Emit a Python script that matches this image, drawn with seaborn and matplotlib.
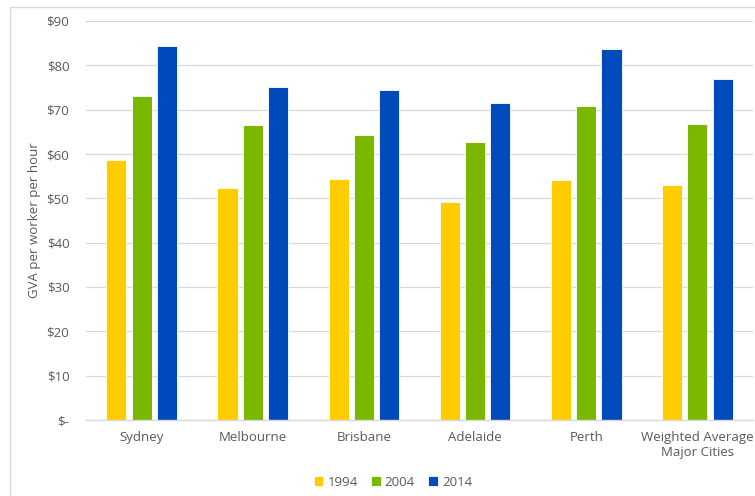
import pandas as pd
import matplotlib.pyplot as plt
import seaborn as sns
from matplotlib.patches import Rectangle

# data
cities = ["Sydney", "Melbourne", "Brisbane", "Adelaide", "Perth",
          "Weighted Average\nMajor Cities"]
years = ["1994", "2004", "2014"]
gva_1994 = [58.7, 52.4, 54.4, 49.1, 54.1, 53.0]
gva_2004 = [73.1, 66.6, 64.2, 62.8, 70.9, 66.7]
gva_2014 = [84.4, 75.2, 74.4, 71.4, 83.7, 77.0]
y_ticks = [0, 10, 20, 30, 40, 50, 60, 70, 80, 90]
y_tick_labels = ["$-", "$10", "$20", "$30", "$40", "$50", "$60", "$70", "$80", "$90"]

COLORS = ["#FFCC00", "#7AB800", "#004BBB"]
TEXT = "#595959"

df = pd.DataFrame({
    "city": cities * 3,
    "year": [y for y in years for _ in cities],
    "gva": gva_1994 + gva_2004 + gva_2014,
})

sns.set_style("white")
plt.rcParams["font.family"] = ["Open Sans", "DejaVu Sans"]

fig = plt.figure(figsize=(7.55, 4.96), dpi=100)
ax = fig.add_axes([86 / 755, 1 - 420 / 496, (753 - 86) / 755, (420 - 21) / 496])

sns.barplot(data=df, x="city", y="gva", hue="year", palette=COLORS, saturation=1,
            width=0.68, gap=0.2, edgecolor="white", linewidth=0.6, ax=ax)

ax.set_ylim(0, 90)
ax.set_xlim(-0.5, len(cities) - 0.5)
ax.set_yticks(y_ticks)
ax.set_yticklabels(y_tick_labels)
ax.yaxis.grid(True, color="#D9D9D9", linewidth=0.9)
ax.set_axisbelow(True)
for s in ["left", "top", "right"]:
    ax.spines[s].set_visible(False)
ax.spines["bottom"].set_color("#D9D9D9")
ax.spines["bottom"].set_linewidth(1.0)
ax.tick_params(axis="both", length=0, colors=TEXT, labelsize=9.5)
ax.tick_params(axis="y", pad=12)
ax.tick_params(axis="x", pad=8)
ax.set_xlabel("")
ax.set_ylabel("GVA per worker per hour", color=TEXT, fontsize=9.5, labelpad=4)

ax.legend(loc="upper center", bbox_to_anchor=(0.46, -0.11), ncol=3, frameon=False,
          fontsize=9.5, labelcolor=TEXT, handlelength=0.75, handleheight=0.75,
          handletextpad=0.3, columnspacing=1.0)

# light chart-area border (Excel style), cropped at right/bottom
fig.patches.append(Rectangle((10 / 755, -0.1), 1.2, 1 - 7 / 496 + 0.1,
                             transform=fig.transFigure, fill=False,
                             edgecolor="#D9D9D9", linewidth=1.0))

fig.savefig("out.png", dpi=100)
